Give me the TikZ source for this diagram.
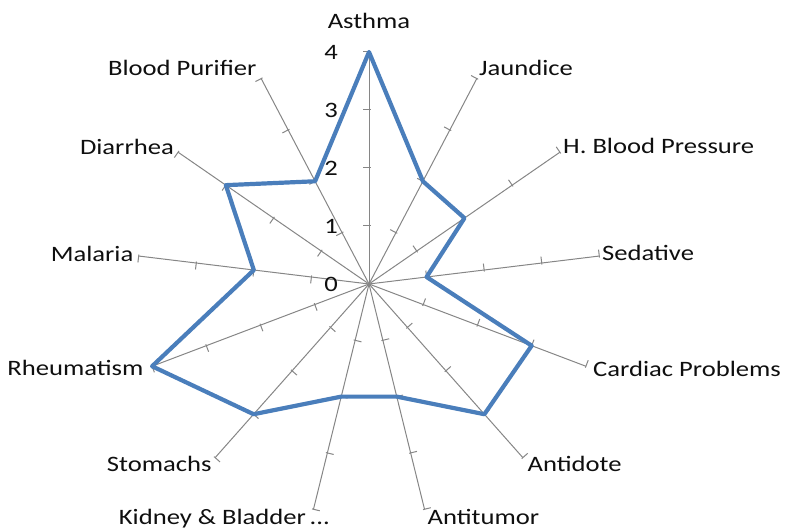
\documentclass[tikz,border=0pt]{standalone}
\usepackage{fontspec}
\setmainfont{Carlito}[FakeStretch=1.21]
\definecolor{axisgray}{RGB}{134,134,134}
\definecolor{serieblue}{RGB}{74,126,187}
\definecolor{txt}{RGB}{15,15,15}
\begin{document}
\begin{tikzpicture}[x=1pt,y=1pt,
  axisline/.style={draw=axisgray,line width=1pt},
  dataline/.style={draw=serieblue,line width=4.2pt,line join=round},
  lbl/.style={font=\fontsize{22}{26}\selectfont,inner sep=0pt,text=txt}]
\useasboundingbox (0,0) rectangle (785,529);
\coordinate (c) at (369,245);
% axes with ticks
\foreach \i in {0,...,12}{
  \pgfmathsetmacro\a{90-\i*360/13}
  \draw[axisline] (c) -- ([shift={(\a:232)}]c) coordinate (e\i);
  \foreach \k in {1,...,4}{
    \draw[axisline] ([shift={(\a:58*\k)}]c) ++(\a-90:1.5) -- ++(\a+90:8);
  }
}
% data series
\foreach \v [count=\i from 0] in {4,2,2,1,3,3,2,2,3,4,2,3,2}{
  \pgfmathsetmacro\a{90-\i*360/13}
  \coordinate (p\i) at ([shift={(\a:58*\v)}]c);
}
\draw[dataline] (p0) -- (p1) -- (p2) -- (p3) -- (p4) -- (p5) -- (p6) -- (p7) -- (p8) -- (p9) -- (p10) -- (p11) -- (p12) -- cycle;
% scale numbers
\foreach \k in {0,...,4}{
  \node[lbl,anchor=base east] (n\k) at (338,237.5+58*\k) {\k};
}
% category labels
\node[lbl,anchor=base] (l0) at (369,500) {Asthma};
\node[lbl,anchor=base west] (l1) at (479,453) {Jaundice};
\node[lbl,anchor=base west] (l2) at (563,375) {H. Blood Pressure};
\node[lbl,anchor=base west] (l3) at (602,268.3) {Sedative};
\node[lbl,anchor=base west] (l4) at (593,152.3) {Cardiac Problems};
\node[lbl,anchor=base west] (l5) at (527.5,57.3) {Antidote};
\node[lbl,anchor=base west] (l6) at (427.5,4) {Antitumor};
\node[lbl,anchor=base east] (l7) at (330,4) {Kidney \& Bladder\,...};
\node[lbl,anchor=base east] (l8) at (211.7,57.3) {Stomachs};
\node[lbl,anchor=base east] (l9) at (143.5,153) {Rheumatism};
\node[lbl,anchor=base east] (l10) at (133.5,267.3) {Malaria};
\node[lbl,anchor=base east] (l11) at (174,374) {Diarrhea};
\node[lbl,anchor=base east] (l12) at (256.7,453) {Blood Purifier};
\end{tikzpicture}
\end{document}
